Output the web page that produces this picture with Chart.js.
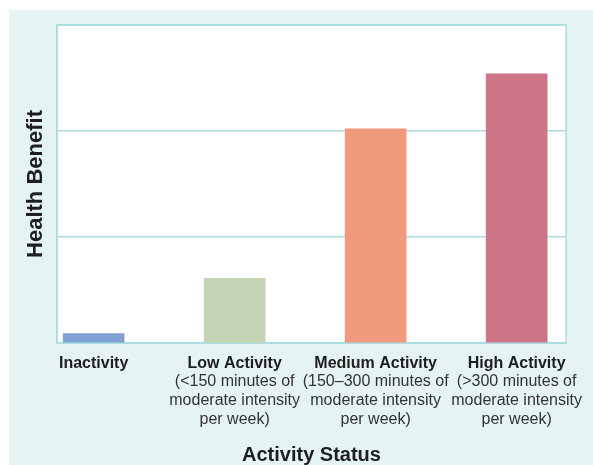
<!DOCTYPE html>
<html>
<head>
<meta charset="utf-8">
<script src="https://cdn.jsdelivr.net/npm/chart.js@4/dist/chart.umd.min.js"></script>
<style>
  html, body { margin: 0; padding: 0; background: #ffffff; }
  #wrap { width: 593px; height: 465px; position: relative; }
</style>
</head>
<body>
<div id="wrap"><canvas id="chart"></canvas></div>
<script>
// Activity levels along the x axis
const categories = ['Inactivity', 'Low Activity', 'Medium Activity', 'High Activity'];
// Second-line descriptions printed under each activity name
const descriptions = [
  [],
  ['(<150 minutes of', 'moderate intensity', 'per week)'],
  ['(150\u2013300 minutes of', 'moderate intensity', 'per week)'],
  ['(>300 minutes of', 'moderate intensity', 'per week)']
];
// Relative health benefit for each level
const benefit = [0.09, 0.61, 2.02, 2.54];
const barColors = ['#7fa2d2', '#c3d4b5', '#f0997d', '#cc7586'];

const PANEL = '#e5f3f4';
const RULE = '#a9dce1';
const FONT = "'Liberation Sans', Arial, Helvetica, sans-serif";
Chart.defaults.font.family = FONT;

const backdrop = {
  id: 'backdrop',
  beforeDraw(chart) {
    const { ctx, chartArea: a, width, height } = chart;
    ctx.save();
    ctx.fillStyle = '#ffffff';
    ctx.fillRect(0, 0, width, height);
    ctx.fillStyle = PANEL;
    ctx.fillRect(9, 10, width - 9, height - 10);
    ctx.fillStyle = '#ffffff';
    ctx.fillRect(a.left, a.top, a.right - a.left, a.bottom - a.top);
    ctx.restore();
  },
  beforeDatasetsDraw(chart) {
    const { ctx, chartArea: a } = chart;
    ctx.save();
    ctx.strokeStyle = RULE;
    ctx.lineWidth = 1.5;
    ctx.strokeRect(a.left, a.top, a.right - a.left, a.bottom - a.top);
    ctx.restore();
  },
  afterDraw(chart) {
    const { ctx, chartArea: a } = chart;
    const xs = chart.scales.x;
    ctx.save();
    ctx.fillStyle = '#333333';
    ctx.font = '16px ' + FONT;
    ctx.textAlign = 'center';
    ctx.textBaseline = 'middle';
    descriptions.forEach((lines, i) => {
      const cx = xs.getPixelForValue(i);
      lines.forEach((t, k) => ctx.fillText(t, cx, a.bottom + 39 + k * 19));
    });
    ctx.restore();
  }
};

new Chart(document.getElementById('chart'), {
  type: 'bar',
  data: {
    datasets: [{
      data: benefit.map((v, i) => ({ x: i, y: v })),
      backgroundColor: barColors,
      borderWidth: 0,
      barThickness: 61
    }]
  },
  options: {
    responsive: true,
    maintainAspectRatio: false,
    animation: false,
    devicePixelRatio: 1,
    layout: { padding: { top: 25, right: 27, left: 0, bottom: 0 } },
    plugins: { legend: { display: false }, tooltip: { enabled: false } },
    scales: {
      x: {
        type: 'linear',
        offset: false,
        min: -0.26,
        max: 3.35,
        afterBuildTicks(scale) { scale.ticks = categories.map((_, i) => ({ value: i })); },
        afterFit(scale) { scale.height = 122; },
        grid: { display: false, drawTicks: false, offset: false },
        border: { display: true, color: RULE, width: 1.5 },
        ticks: {
          autoSkip: false,
          maxRotation: 0,
          padding: 11,
          color: '#1e1e1e',
          font: { size: 16, weight: 'bold' },
          callback: (v) => categories[v]
        },
        title: {
          display: true,
          text: 'Activity Status',
          color: '#1e1e1e',
          font: { size: 20, weight: 'bold', lineHeight: 1 },
          padding: { top: 0, bottom: 0 }
        }
      },
      y: {
        min: 0,
        max: 3,
        afterFit(scale) { scale.width = 57; },
        ticks: { display: false, stepSize: 1 },
        grid: { color: RULE, lineWidth: 1.5, drawTicks: false },
        border: { display: true, color: RULE, width: 1.5 },
        title: {
          display: true,
          text: 'Health Benefit',
          color: '#1e1e1e',
          font: { size: 22, weight: 'bold', lineHeight: 1 },
          padding: { top: 25, bottom: 0 }
        }
      }
    }
  },
  plugins: [backdrop]
});
</script>
</body>
</html>
